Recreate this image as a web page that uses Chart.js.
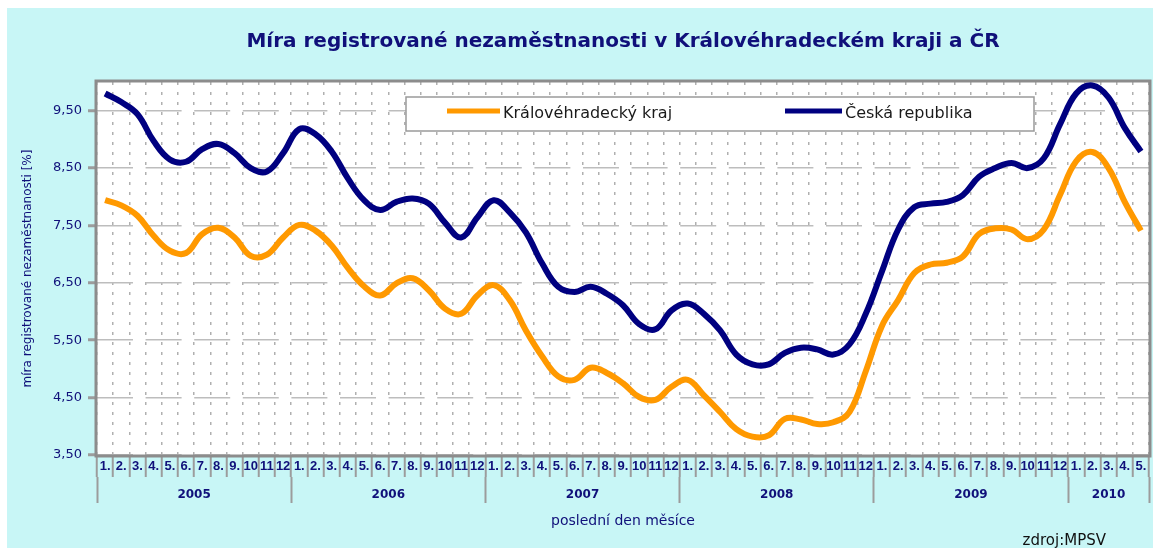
<!DOCTYPE html>
<html lang="cs">
<head>
<meta charset="utf-8">
<title>Míra registrované nezaměstnanosti</title>
<script src="https://cdn.jsdelivr.net/npm/chart.js@4.4.1/dist/chart.umd.min.js"></script>
<style>
  html, body { margin: 0; padding: 0; background: #ffffff; }
  #wrap { width: 1157px; height: 548px; position: relative; }
</style>
</head>
<body>
<div id="wrap"><canvas id="unempChart"></canvas></div>
<script>
const monthLabels = [];
const yearNames = ["2005", "2006", "2007", "2008", "2009", "2010"];
const yearMonths = [12, 12, 12, 12, 12, 5];
const yTicks = [3.5, 4.5, 5.5, 6.5, 7.5, 8.5, 9.5];

// Královéhradecký kraj, 1/2005 - 5/2010
const seriesKHK = [
  7.94, 7.85, 7.67, 7.32, 7.06, 7.02, 7.35, 7.46, 7.29, 6.97, 6.99, 7.29,
  7.51, 7.41, 7.15, 6.76, 6.44, 6.28, 6.49, 6.58, 6.37, 6.05, 5.96, 6.28,
  6.46, 6.20, 5.67, 5.22, 4.87, 4.81, 5.02, 4.93, 4.75, 4.51, 4.46, 4.69,
  4.81, 4.54, 4.25, 3.95, 3.82, 3.84, 4.13, 4.12, 4.04, 4.07, 4.25, 4.96,
  5.75, 6.20, 6.67, 6.82, 6.85, 6.96, 7.35, 7.45, 7.43, 7.26, 7.43, 8.03,
  8.62, 8.78, 8.50, 7.91, 7.41
];

// Česká republika
const seriesCR = [
  9.80, 9.65, 9.44, 8.97, 8.65, 8.61, 8.83, 8.92, 8.76, 8.50, 8.44, 8.76,
  9.18, 9.09, 8.79, 8.32, 7.94, 7.77, 7.91, 7.97, 7.88, 7.55, 7.29, 7.64,
  7.94, 7.73, 7.38, 6.84, 6.43, 6.34, 6.43, 6.31, 6.11, 5.78, 5.69, 6.02,
  6.14, 5.96, 5.67, 5.25, 5.08, 5.08, 5.28, 5.37, 5.34, 5.25, 5.43, 5.96,
  6.70, 7.43, 7.82, 7.88, 7.91, 8.03, 8.35, 8.50, 8.59, 8.50, 8.67, 9.26,
  9.80, 9.94, 9.73, 9.20, 8.79
];

yearMonths.forEach((n) => {
  for (let m = 1; m <= n; m++) monthLabels.push(m < 10 ? m + "." : String(m));
});

// year separators and label positions on the month index scale
const yearBounds = [-0.5];
const yearCenters = [];
let acc = -0.5;
yearMonths.forEach((n) => {
  yearCenters.push(acc + n / 2);
  acc += n;
  yearBounds.push(acc);
});

const navy = "#10107a";
const frameGray = "#8c8c8c";

const backgroundPlugin = {
  id: "panelBg",
  beforeDraw(chart) {
    const { ctx, chartArea: a } = chart;
    ctx.save();
    ctx.fillStyle = "#ffffff";
    ctx.fillRect(0, 0, chart.width, chart.height);
    ctx.fillStyle = "#c8f6f6";
    ctx.fillRect(7, 8, 1146, chart.height - 8);
    ctx.fillStyle = "#ffffff";
    ctx.fillRect(a.left, a.top, a.right - a.left, a.bottom - a.top);
    ctx.restore();
  },
  beforeDatasetsDraw(chart) {
    const { ctx, chartArea: a } = chart;
    ctx.save();
    ctx.strokeStyle = frameGray;
    ctx.lineWidth = 3;
    ctx.strokeRect(a.left - 1, a.top - 1, a.right - a.left + 2, a.bottom - a.top + 2);
    ctx.restore();
  },
  afterDatasetsDraw(chart) {
    const { ctx } = chart;
    const sets = chart.data.datasets;
    ctx.save();
    // legend box
    ctx.fillStyle = "#ffffff";
    ctx.fillRect(406, 97, 628, 34);
    ctx.strokeStyle = "#9a9a9a";
    ctx.lineWidth = 1.5;
    ctx.strokeRect(406, 97, 628, 34);
    const items = [
      { x1: 447, x2: 500 },
      { x1: 785, x2: 842 },
    ];
    ctx.font = "16px 'DejaVu Sans'";
    ctx.textBaseline = "middle";
    ctx.textAlign = "left";
    items.forEach((it, i) => {
      ctx.strokeStyle = sets[i].borderColor;
      ctx.lineWidth = 5;
      ctx.beginPath();
      ctx.moveTo(it.x1, 111);
      ctx.lineTo(it.x2, 111);
      ctx.stroke();
      ctx.fillStyle = "#1a1a1a";
      ctx.fillText(sets[i].label, it.x2 + 3, 114);
    });
    ctx.restore();
  },
  afterDraw(chart) {
    const { ctx } = chart;
    ctx.save();
    ctx.font = "15px 'DejaVu Sans'";
    ctx.fillStyle = "#111111";
    ctx.textAlign = "right";
    ctx.textBaseline = "middle";
    ctx.fillText("zdroj:MPSV", 1106, 541);
    ctx.restore();
  },
};

const ctx = document.getElementById("unempChart").getContext("2d");

new Chart(ctx, {
  type: "line",
  data: {
    labels: monthLabels,
    datasets: [
      {
        label: "Královéhradecký kraj",
        data: seriesKHK,
        borderColor: "#ff9900",
        borderWidth: 6,
        pointRadius: 0,
        tension: 0.4,
      },
      {
        label: "Česká republika",
        data: seriesCR,
        borderColor: "#000080",
        borderWidth: 6,
        pointRadius: 0,
        tension: 0.4,
      },
    ],
  },
  options: {
    responsive: true,
    maintainAspectRatio: false,
    animation: false,
    layout: { padding: { left: 0, right: 8, top: 0, bottom: 0 } },
    plugins: {
      legend: { display: false },
      tooltip: { enabled: false },
      title: {
        display: true,
        fullSize: false,
        text: "Míra registrované nezaměstnanosti v Královéhradeckém kraji a ČR",
        color: navy,
        font: { family: "'DejaVu Sans'", size: 20, weight: "bold", lineHeight: 1.2 },
        padding: { top: 30, bottom: 28 },
      },
    },
    scales: {
      x: {
        type: "category",
        offset: true,
        weight: 0,
        afterFit: (s) => { s.height = 22; },
        border: { display: false, dash: [3, 7] },
        grid: {
          offset: true,
          color: "#b0b0b0",
          lineWidth: 1.5,
          tickLength: 22,
          tickColor: "#9c9c9c",
          tickWidth: 2,
          tickBorderDash: [],
        },
        ticks: {
          autoSkip: false,
          maxRotation: 0,
          minRotation: 0,
          padding: -18,
          color: navy,
          font: { family: "'Liberation Sans'", size: 13, weight: "bold" },
        },
      },
      years: {
        type: "linear",
        position: "bottom",
        weight: 1,
        min: -0.5,
        max: 64.5,
        afterFit: (s) => { s.height = 71; },
        afterBuildTicks: (s) => {
          s.ticks = yearBounds.concat(yearCenters).sort((a, b) => a - b).map((v) => ({ value: v }));
        },
        border: { display: false },
        grid: {
          drawOnChartArea: false,
          tickLength: 26,
          tickWidth: 2,
          color: (c) => (c.tick && yearBounds.includes(c.tick.value) ? "#9c9c9c" : "rgba(0,0,0,0)"),
        },
        ticks: {
          autoSkip: false,
          maxRotation: 0,
          padding: -15,
          color: navy,
          font: { family: "'DejaVu Sans'", size: 12, weight: "bold" },
          callback: (v) => {
            const i = yearCenters.indexOf(v);
            return i >= 0 ? yearNames[i] : "";
          },
        },
        title: {
          display: true,
          text: "poslední den měsíce",
          color: navy,
          font: { family: "'DejaVu Sans'", size: 14 },
          padding: { top: 0, bottom: 18 },
        },
      },
      y: {
        min: 3.5,
        max: 10,
        afterFit: (s) => { s.width = 97; },
        afterBuildTicks: (s) => { s.ticks = yTicks.map((v) => ({ value: v })); },
        border: { display: false, dash: [36, 12.6] },
        grid: {
          color: "#bdbdbd",
          lineWidth: 1.5,
          tickLength: 9,
          tickColor: "#9c9c9c",
          tickWidth: 3,
          tickBorderDash: [],
        },
        ticks: {
          padding: 6,
          color: navy,
          font: { family: "'DejaVu Sans'", size: 13 },
          callback: (v) => Number(v).toFixed(2).replace(".", ","),
        },
        title: {
          display: true,
          text: "míra registrované nezaměstnanosti [%]",
          color: navy,
          font: { family: "'DejaVu Sans'", size: 12 },
          padding: { top: 21, bottom: 0 },
        },
      },
    },
  },
  plugins: [backgroundPlugin],
});
</script>
</body>
</html>
